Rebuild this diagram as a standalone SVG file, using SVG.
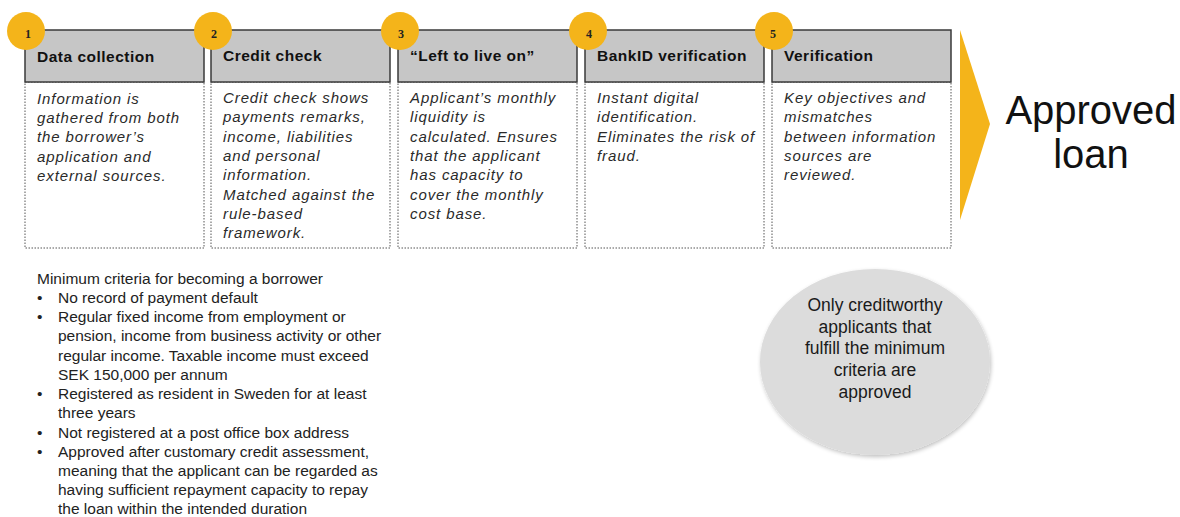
<svg xmlns="http://www.w3.org/2000/svg" width="1180" height="517" viewBox="0 0 1180 517">
<style>
.hdr{fill:#c6c6c6;stroke:#3a3a3a;stroke-width:1.5}
.body{fill:#fff;stroke:#555;stroke-width:1;stroke-dasharray:1.5 1.5}
.badge{fill:#f4b41a}
.num{font-family:"Liberation Serif",serif;font-weight:bold;font-size:12px;fill:#222}
.ht{font-family:"Liberation Sans",Arial,sans-serif;font-weight:bold;font-size:15.5px;letter-spacing:0.5px;fill:#111}
.bt{font-family:"Liberation Sans",Arial,sans-serif;font-style:italic;font-size:15px;letter-spacing:0.9px;fill:#2a2a2a}
.ct{font-family:"Liberation Sans",Arial,sans-serif;font-size:15.5px;fill:#222}
.et{font-family:"Liberation Sans",Arial,sans-serif;font-size:17.5px;fill:#1a1a1a;text-anchor:middle}
</style>
<defs>
<filter id="sh" x="-10%" y="-10%" width="130%" height="130%">
<feGaussianBlur in="SourceAlpha" stdDeviation="2"/>
<feOffset dx="1" dy="2"/>
<feComponentTransfer><feFuncA type="linear" slope="0.25"/></feComponentTransfer>
<feMerge><feMergeNode/><feMergeNode in="SourceGraphic"/></feMerge>
</filter>
</defs>
<rect width="1180" height="517" fill="#fff"/>

<g id="step1">
<rect class="body" x="25" y="82" width="179" height="166"/>
<rect class="hdr" x="25" y="30" width="179" height="52"/>
<circle class="badge" cx="26" cy="31" r="19"/>
<text class="num" x="28" y="38" text-anchor="middle">1</text>
<text class="ht" x="37" y="62">Data collection</text>
<text class="bt" x="37"><tspan x="37" y="104">Information is</tspan><tspan x="37" y="123">gathered from both</tspan><tspan x="37" y="142">the borrower’s</tspan><tspan x="37" y="162">application and</tspan><tspan x="37" y="181">external sources.</tspan></text>
</g>

<g id="step2">
<rect class="body" x="211" y="82" width="179" height="166"/>
<rect class="hdr" x="211" y="30" width="179" height="52"/>
<circle class="badge" cx="213" cy="31" r="19"/>
<text class="num" x="214" y="38" text-anchor="middle">2</text>
<text class="ht" x="223" y="61">Credit check</text>
<text class="bt"><tspan x="223" y="103">Credit check shows</tspan><tspan x="223" y="122">payments remarks,</tspan><tspan x="223" y="142">income, liabilities</tspan><tspan x="223" y="161">and personal</tspan><tspan x="223" y="180">information.</tspan><tspan x="223" y="200">Matched against the</tspan><tspan x="223" y="219">rule-based</tspan><tspan x="223" y="238">framework.</tspan></text>
</g>

<g id="step3">
<rect class="body" x="398" y="82" width="179" height="166"/>
<rect class="hdr" x="398" y="30" width="179" height="52"/>
<circle class="badge" cx="400" cy="31" r="19"/>
<text class="num" x="401" y="38" text-anchor="middle">3</text>
<text class="ht" x="410" y="61">“Left to live on”</text>
<text class="bt"><tspan x="410" y="103">Applicant’s monthly</tspan><tspan x="410" y="122">liquidity is</tspan><tspan x="410" y="142">calculated. Ensures</tspan><tspan x="410" y="161">that the applicant</tspan><tspan x="410" y="180">has capacity to</tspan><tspan x="410" y="200">cover the monthly</tspan><tspan x="410" y="219">cost base.</tspan></text>
</g>

<g id="step4">
<rect class="body" x="585" y="82" width="179" height="166"/>
<rect class="hdr" x="585" y="30" width="179" height="52"/>
<circle class="badge" cx="588" cy="31" r="19"/>
<text class="num" x="589" y="38" text-anchor="middle">4</text>
<text class="ht" x="597" y="61">BankID verification</text>
<text class="bt"><tspan x="597" y="103">Instant digital</tspan><tspan x="597" y="122">identification.</tspan><tspan x="597" y="142">Eliminates the risk of</tspan><tspan x="597" y="161">fraud.</tspan></text>
</g>

<g id="step5">
<rect class="body" x="772" y="82" width="179" height="166"/>
<rect class="hdr" x="772" y="30" width="179" height="52"/>
<circle class="badge" cx="774" cy="31" r="19"/>
<text class="num" x="773" y="38" text-anchor="middle">5</text>
<text class="ht" x="784" y="61">Verification</text>
<text class="bt"><tspan x="784" y="103">Key objectives and</tspan><tspan x="784" y="122">mismatches</tspan><tspan x="784" y="142">between information</tspan><tspan x="784" y="161">sources are</tspan><tspan x="784" y="180">reviewed.</tspan></text>
</g>

<g id="connectors">
<polygon points="960,30 990,124 960,220" fill="#f4b41a"/>
</g>

<g id="approved">
<text x="1091" y="124" text-anchor="middle" font-family="'Liberation Sans',Arial,sans-serif" font-size="40" fill="#111">Approved</text>
<text x="1091" y="168" text-anchor="middle" font-family="'Liberation Sans',Arial,sans-serif" font-size="40" fill="#111">loan</text>
</g>

<g id="criteria">
<text class="ct" x="37" y="284" fill="#111">Minimum criteria for becoming a borrower</text>
<g class="ct">
<text x="37" y="303">•</text><text x="58" y="303">No record of payment default</text>
<text x="37" y="322">•</text><text x="58" y="322">Regular fixed income from employment or</text>
<text x="58" y="341">pension, income from business activity or other</text>
<text x="58" y="361">regular income. Taxable income must exceed</text>
<text x="58" y="380">SEK 150,000 per annum</text>
<text x="37" y="399">•</text><text x="58" y="399">Registered as resident in Sweden for at least</text>
<text x="58" y="418">three years</text>
<text x="37" y="438">•</text><text x="58" y="438">Not registered at a post office box address</text>
<text x="37" y="457">•</text><text x="58" y="457">Approved after customary credit assessment,</text>
<text x="58" y="476">meaning that the applicant can be regarded as</text>
<text x="58" y="495">having sufficient repayment capacity to repay</text>
<text x="58" y="514">the loan within the intended duration</text>
</g>
</g>

<g id="note">
<ellipse cx="875" cy="362" rx="115" ry="93" fill="#dcdcdc" filter="url(#sh)"/>
<text class="et"><tspan x="875" y="311">Only creditworthy</tspan><tspan x="875" y="333">applicants that</tspan><tspan x="875" y="354">fulfill the minimum</tspan><tspan x="875" y="376">criteria are</tspan><tspan x="875" y="398">approved</tspan></text>
</g>
</svg>
